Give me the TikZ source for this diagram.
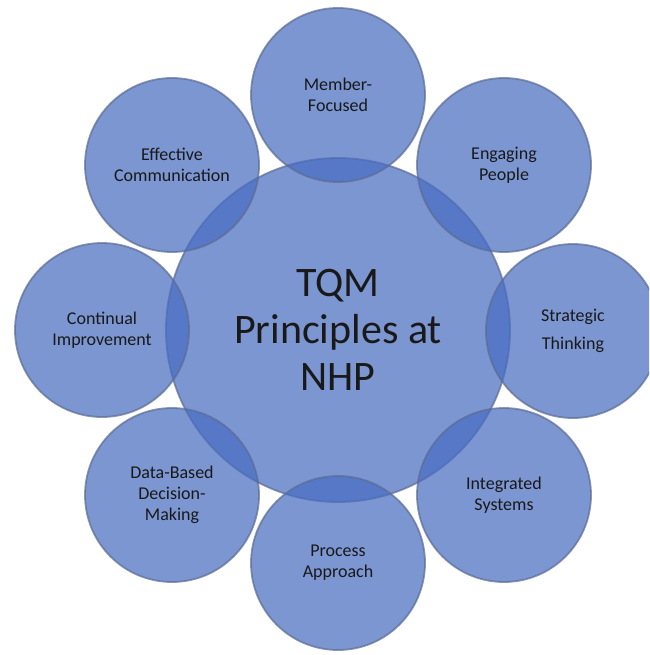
\documentclass[tikz,border=0pt]{standalone}
\usepackage{fontspec}
\setmainfont{Carlito}
\definecolor{tqmblue}{RGB}{73,109,193}
\definecolor{tqmrim}{RGB}{92,108,146}
\begin{document}
\begin{tikzpicture}[x=1pt,y=-1pt,
  bubble/.style={circle,minimum size=174pt,inner sep=0pt,fill=tqmblue,fill opacity=0.72,
    draw=tqmrim,draw opacity=0.7,line width=1.8pt,text opacity=1,text=black!90,
    align=center,font=\fontsize{18}{21}\selectfont},
  hub/.style={bubble,minimum size=344pt,font=\fontsize{42}{47}\selectfont}]

  \useasboundingbox (0,0) rectangle (649,655);
  \clip (0,0) rectangle (649,655);

  \node[hub] (tqm) at (338,330) {TQM\\Principles at\\NHP};

  \node[bubble] (member)    at (338,95)  {Member-\\Focused};
  \node[bubble] (engaging)  at (504,165) {Engaging\\People};
  \node[bubble] (strategic) at (573,331) {Strategic\\[7pt]Thinking};
  \node[bubble] (integrated) at (504,495) {Integrated\\Systems};
  \node[bubble] (process)   at (338,563) {Process\\Approach};
  \node[bubble] (data)      at (172,495) {Data-Based\\Decision-\\Making};
  \node[bubble] (continual) at (102,330) {Continual\\Improvement};
  \node[bubble] (effective) at (172,165) {Effective\\Communication};

\end{tikzpicture}
\end{document}
